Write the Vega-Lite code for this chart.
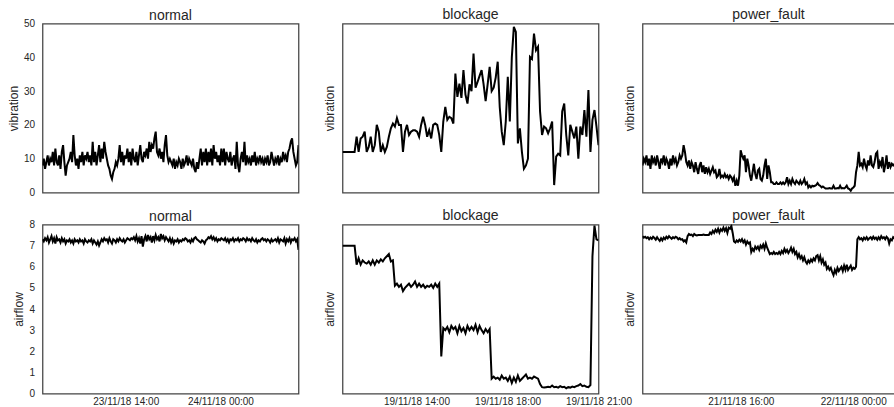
{
  "$schema": "https://vega.github.io/schema/vega-lite/v6.json",
  "padding": {"left": 6.5, "top": 6.5, "right": 0, "bottom": 0},
  "background": "white",
  "spacing": 9,
  "config": {
    "font": "Liberation Sans",
    "view": {"stroke": "#444444", "strokeWidth": 1.25},
    "title": {"fontSize": 14, "fontWeight": "normal", "color": "#262626", "offset": 2, "baseline": "alphabetic", "font": "Liberation Sans"},
    "axis": {"grid": false, "domain": false, "ticks": false, "tickSize": 0, "labelFontSize": 10, "labelColor": "#262626", "titleFontSize": 12, "titleFontWeight": "normal", "titleColor": "#262626", "labelFont": "Liberation Sans", "titleFont": "Liberation Sans"}
  },
  "datasets": {
    "normal": [
{"i":0,"v":8,"a":7.3},{"i":1,"v":10,"a":7.2},{"i":2,"v":7,"a":7.35},{"i":3,"v":9,"a":7.25},{"i":4,"v":11,"a":7.4},{"i":5,"v":8,"a":7.15},{"i":6,"v":10,"a":7.3},{"i":7,"v":9,"a":7.45},{"i":8,"v":12,"a":7.2},{"i":9,"v":8,"a":7.35},
{"i":10,"v":13,"a":7.1},{"i":11,"v":9,"a":7.4},{"i":12,"v":8,"a":7.25},{"i":13,"v":11,"a":7.3},{"i":14,"v":7,"a":7.15},{"i":15,"v":12,"a":7.35},{"i":16,"v":14,"a":7.2},{"i":17,"v":9,"a":7.3},{"i":18,"v":5,"a":7.1},{"i":19,"v":8,"a":7.25},
{"i":20,"v":9,"a":7.2},{"i":21,"v":10,"a":7.3},{"i":22,"v":12,"a":7.15},{"i":23,"v":9,"a":7.25},{"i":24,"v":17,"a":7.1},{"i":25,"v":11,"a":7.3},{"i":26,"v":8,"a":7.2},{"i":27,"v":10,"a":7.25},{"i":28,"v":7,"a":7.15},{"i":29,"v":11,"a":7.3},
{"i":30,"v":9,"a":7.2},{"i":31,"v":12,"a":7.25},{"i":32,"v":8,"a":7.1},{"i":33,"v":11,"a":7.3},{"i":34,"v":10,"a":7.2},{"i":35,"v":12,"a":7.15},{"i":36,"v":9,"a":7.25},{"i":37,"v":11,"a":7.2},{"i":38,"v":8,"a":7.3},{"i":39,"v":15,"a":7.1},
{"i":40,"v":9,"a":7.25},{"i":41,"v":12,"a":7.15},{"i":42,"v":8,"a":7.05},{"i":43,"v":11,"a":7.2},{"i":44,"v":14,"a":7.0},{"i":45,"v":9,"a":7.15},{"i":46,"v":13,"a":7.3},{"i":47,"v":10,"a":7.2},{"i":48,"v":15,"a":7.35},{"i":49,"v":12,"a":7.25},
{"i":50,"v":10,"a":7.3},{"i":51,"v":8,"a":7.15},{"i":52,"v":7,"a":7.35},{"i":53,"v":5,"a":7.2},{"i":54,"v":4,"a":7.1},{"i":55,"v":6,"a":7.3},{"i":56,"v":7,"a":7.25},{"i":57,"v":9,"a":7.15},{"i":58,"v":8,"a":7.3},{"i":59,"v":10,"a":7.2},
{"i":60,"v":14,"a":7.35},{"i":61,"v":9,"a":7.25},{"i":62,"v":12,"a":7.2},{"i":63,"v":8,"a":7.3},{"i":64,"v":11,"a":7.15},{"i":65,"v":10,"a":7.25},{"i":66,"v":13,"a":7.35},{"i":67,"v":9,"a":7.3},{"i":68,"v":12,"a":7.25},{"i":69,"v":8,"a":7.35},
{"i":70,"v":13,"a":7.3},{"i":71,"v":10,"a":7.4},{"i":72,"v":9,"a":7.25},{"i":73,"v":12,"a":7.45},{"i":74,"v":8,"a":7.2},{"i":75,"v":11,"a":7.35},{"i":76,"v":14,"a":7.1},{"i":77,"v":10,"a":7.45},{"i":78,"v":9,"a":6.95},{"i":79,"v":12,"a":7.3},
{"i":80,"v":11,"a":7.45},{"i":81,"v":13,"a":7.2},{"i":82,"v":10,"a":7.5},{"i":83,"v":15,"a":7.3},{"i":84,"v":12,"a":7.4},{"i":85,"v":14,"a":7.15},{"i":86,"v":13,"a":7.45},{"i":87,"v":16,"a":7.25},{"i":88,"v":18,"a":7.5},{"i":89,"v":12,"a":7.3},
{"i":90,"v":11,"a":7.4},{"i":91,"v":13,"a":7.2},{"i":92,"v":10,"a":7.55},{"i":93,"v":12,"a":7.35},{"i":94,"v":9,"a":7.45},{"i":95,"v":14,"a":7.25},{"i":96,"v":17,"a":7.4},{"i":97,"v":11,"a":7.3},{"i":98,"v":9,"a":7.2},{"i":99,"v":10,"a":7.35},
{"i":100,"v":9,"a":7.15},{"i":101,"v":8,"a":7.3},{"i":102,"v":10,"a":7.1},{"i":103,"v":7,"a":7.25},{"i":104,"v":9,"a":7.2},{"i":105,"v":8,"a":7.3},{"i":106,"v":10,"a":7.15},{"i":107,"v":9,"a":7.25},{"i":108,"v":7,"a":7.2},{"i":109,"v":10,"a":7.3},
{"i":110,"v":8,"a":7.25},{"i":111,"v":9,"a":7.35},{"i":112,"v":11,"a":7.3},{"i":113,"v":8,"a":7.2},{"i":114,"v":10,"a":7.25},{"i":115,"v":9,"a":7.15},{"i":116,"v":8,"a":7.3},{"i":117,"v":10,"a":7.2},{"i":118,"v":7,"a":7.35},{"i":119,"v":6,"a":7.4},
{"i":120,"v":9,"a":7.3},{"i":121,"v":7,"a":7.25},{"i":122,"v":10,"a":7.2},{"i":123,"v":13,"a":7.15},{"i":124,"v":8,"a":7.25},{"i":125,"v":12,"a":7.2},{"i":126,"v":9,"a":7.1},{"i":127,"v":13,"a":7.25},{"i":128,"v":8,"a":7.3},{"i":129,"v":12,"a":7.4},
{"i":130,"v":9,"a":7.35},{"i":131,"v":13,"a":7.45},{"i":132,"v":8,"a":7.3},{"i":133,"v":14,"a":7.4},{"i":134,"v":10,"a":7.25},{"i":135,"v":12,"a":7.35},{"i":136,"v":9,"a":7.2},{"i":137,"v":11,"a":7.3},{"i":138,"v":8,"a":7.25},{"i":139,"v":13,"a":7.35},
{"i":140,"v":9,"a":7.3},{"i":141,"v":13,"a":7.25},{"i":142,"v":8,"a":7.35},{"i":143,"v":12,"a":7.2},{"i":144,"v":10,"a":7.3},{"i":145,"v":9,"a":7.15},{"i":146,"v":12,"a":7.3},{"i":147,"v":8,"a":7.25},{"i":148,"v":10,"a":7.35},{"i":149,"v":11,"a":7.2},
{"i":150,"v":7,"a":7.3},{"i":151,"v":15,"a":7.25},{"i":152,"v":8,"a":7.35},{"i":153,"v":6,"a":7.2},{"i":154,"v":10,"a":7.3},{"i":155,"v":12,"a":7.25},{"i":156,"v":9,"a":7.35},{"i":157,"v":15,"a":7.3},{"i":158,"v":8,"a":7.2},{"i":159,"v":11,"a":7.35},
{"i":160,"v":9,"a":7.25},{"i":161,"v":10,"a":7.3},{"i":162,"v":8,"a":7.2},{"i":163,"v":11,"a":7.35},{"i":164,"v":9,"a":7.25},{"i":165,"v":12,"a":7.2},{"i":166,"v":8,"a":7.3},{"i":167,"v":10,"a":7.15},{"i":168,"v":9,"a":7.25},{"i":169,"v":11,"a":7.2},
{"i":170,"v":9,"a":7.3},{"i":171,"v":10,"a":7.35},{"i":172,"v":8,"a":7.25},{"i":173,"v":10,"a":7.3},{"i":174,"v":9,"a":7.2},{"i":175,"v":11,"a":7.3},{"i":176,"v":8,"a":7.25},{"i":177,"v":9,"a":7.15},{"i":178,"v":12,"a":7.3},{"i":179,"v":10,"a":7.2},
{"i":180,"v":8,"a":7.25},{"i":181,"v":10,"a":7.3},{"i":182,"v":9,"a":7.2},{"i":183,"v":11,"a":7.35},{"i":184,"v":8,"a":7.15},{"i":185,"v":10,"a":7.3},{"i":186,"v":9,"a":7.25},{"i":187,"v":12,"a":7.2},{"i":188,"v":10,"a":7.35},{"i":189,"v":11,"a":7.1},
{"i":190,"v":9,"a":7.3},{"i":191,"v":12,"a":7.2},{"i":192,"v":13,"a":7.35},{"i":193,"v":15,"a":7.15},{"i":194,"v":16,"a":7.3},{"i":195,"v":12,"a":7.25},{"i":196,"v":10,"a":7.35},{"i":197,"v":8,"a":7.2},{"i":198,"v":9,"a":7.3},{"i":199,"v":14,"a":6.8}
    ],
    "blockage": [
{"i":0,"v":12,"a":7},{"i":1,"v":12,"a":7},{"i":2,"v":12,"a":7},{"i":3,"v":12,"a":7},{"i":4,"v":12,"a":7},{"i":5,"v":12,"a":7},{"i":6,"v":12,"a":7},{"i":7,"v":16.5,"a":6.1},{"i":8,"v":12,"a":6.4},{"i":9,"v":16,"a":6.1},
{"i":10,"v":16.5,"a":6.3},{"i":11,"v":18,"a":6.2},{"i":12,"v":12,"a":6.15},{"i":13,"v":13.5,"a":6.25},{"i":14,"v":16.5,"a":6.1},{"i":15,"v":12,"a":6.3},{"i":16,"v":14,"a":6.1},{"i":17,"v":20,"a":6.3},{"i":18,"v":18,"a":6.2},{"i":19,"v":12,"a":6.35},
{"i":20,"v":14,"a":6.25},{"i":21,"v":12,"a":6.4},{"i":22,"v":13.5,"a":6.5},{"i":23,"v":16.5,"a":6.6},{"i":24,"v":19,"a":6.25},{"i":25,"v":20.4,"a":6.3},{"i":26,"v":19.5,"a":5.1},{"i":27,"v":22,"a":5.2},{"i":28,"v":20,"a":5.05},{"i":29,"v":20,"a":5.15},
{"i":30,"v":12,"a":4.85},{"i":31,"v":18,"a":5},{"i":32,"v":20,"a":5.1},{"i":33,"v":17,"a":5.2},{"i":34,"v":18,"a":5.05},{"i":35,"v":18.4,"a":5.15},{"i":36,"v":18.4,"a":5.3},{"i":37,"v":18,"a":5.05},{"i":38,"v":16.5,"a":5.2},{"i":39,"v":20,"a":5.05},
{"i":40,"v":22.4,"a":5.15},{"i":41,"v":20,"a":5},{"i":42,"v":16.5,"a":5.1},{"i":43,"v":18.4,"a":5.05},{"i":44,"v":16,"a":5.15},{"i":45,"v":20,"a":5},{"i":46,"v":20.4,"a":5.2},{"i":47,"v":20,"a":5.05},{"i":48,"v":17,"a":5.2},{"i":49,"v":12,"a":1.75},
{"i":50,"v":21,"a":3.1},{"i":51,"v":25.3,"a":3},{"i":52,"v":21.5,"a":3.15},{"i":53,"v":22.4,"a":2.9},{"i":54,"v":22,"a":3.2},{"i":55,"v":20.4,"a":3.05},{"i":56,"v":35.2,"a":3.15},{"i":57,"v":28.3,"a":2.85},{"i":58,"v":32.2,"a":3.2},{"i":59,"v":28,"a":2.95},
{"i":60,"v":36.2,"a":3.1},{"i":61,"v":29,"a":2.85},{"i":62,"v":26.3,"a":3.2},{"i":63,"v":32,"a":3},{"i":64,"v":30,"a":3.15},{"i":65,"v":41.1,"a":3},{"i":66,"v":31,"a":3.25},{"i":67,"v":32.7,"a":2.9},{"i":68,"v":34.5,"a":3.2},{"i":69,"v":36.2,"a":3},
{"i":70,"v":32,"a":2.85},{"i":71,"v":27,"a":3.05},{"i":72,"v":32,"a":2.9},{"i":73,"v":37.2,"a":3.05},{"i":74,"v":30,"a":0.7},{"i":75,"v":31,"a":0.8},{"i":76,"v":34,"a":0.7},{"i":77,"v":38.7,"a":0.75},{"i":78,"v":25.3,"a":0.65},{"i":79,"v":18,"a":0.85},
{"i":80,"v":14,"a":0.7},{"i":81,"v":21,"a":0.75},{"i":82,"v":34.2,"a":0.6},{"i":83,"v":21,"a":0.8},{"i":84,"v":40,"a":0.5},{"i":85,"v":49,"a":0.75},{"i":86,"v":47.5,"a":0.55},{"i":87,"v":14.5,"a":0.85},{"i":88,"v":19,"a":0.6},{"i":89,"v":12,"a":0.7},
{"i":90,"v":7,"a":0.8},{"i":91,"v":8,"a":0.9},{"i":92,"v":10,"a":0.7},{"i":93,"v":40.1,"a":0.75},{"i":94,"v":39.5,"a":0.7},{"i":95,"v":47,"a":0.8},{"i":96,"v":42.1,"a":0.75},{"i":97,"v":43.1,"a":0.7},{"i":98,"v":24,"a":0.45},{"i":99,"v":17,"a":0.3},
{"i":100,"v":19.5,"a":0.28},{"i":101,"v":19,"a":0.3},{"i":102,"v":17.5,"a":0.32},{"i":103,"v":19,"a":0.3},{"i":104,"v":21,"a":0.38},{"i":105,"v":2.2,"a":0.3},{"i":106,"v":10.6,"a":0.32},{"i":107,"v":11.5,"a":0.28},{"i":108,"v":11,"a":0.35},{"i":109,"v":24,"a":0.3},
{"i":110,"v":26.3,"a":0.32},{"i":111,"v":17,"a":0.25},{"i":112,"v":11,"a":0.3},{"i":113,"v":20,"a":0.28},{"i":114,"v":18,"a":0.33},{"i":115,"v":16,"a":0.3},{"i":116,"v":19.5,"a":0.35},{"i":117,"v":10,"a":0.38},{"i":118,"v":19.5,"a":0.45},{"i":119,"v":17,"a":0.35},
{"i":120,"v":24.4,"a":0.38},{"i":121,"v":16.5,"a":0.32},{"i":122,"v":30.3,"a":0.3},{"i":123,"v":12,"a":0.4},{"i":124,"v":21.5,"a":6.5},{"i":125,"v":24.4,"a":7.95},{"i":126,"v":19.5,"a":7.3},{"i":127,"v":14,"a":7.25}
    ],
    "power_fault": [
{"i":0,"v":8,"a":7.45},{"i":1,"v":10,"a":7.38},{"i":2,"v":9,"a":7.42},{"i":3,"v":11,"a":7.35},{"i":4,"v":8,"a":7.4},{"i":5,"v":10,"a":7.3},{"i":6,"v":7,"a":7.38},{"i":7,"v":11,"a":7.32},{"i":8,"v":9,"a":7.42},{"i":9,"v":10,"a":7.36},
{"i":10,"v":8,"a":7.28},{"i":11,"v":11,"a":7.4},{"i":12,"v":9,"a":7.3},{"i":13,"v":7,"a":7.22},{"i":14,"v":10,"a":7.35},{"i":15,"v":9,"a":7.25},{"i":16,"v":11,"a":7.38},{"i":17,"v":8,"a":7.3},{"i":18,"v":10,"a":7.42},{"i":19,"v":9,"a":7.35},
{"i":20,"v":7,"a":7.45},{"i":21,"v":10,"a":7.38},{"i":22,"v":8,"a":7.32},{"i":23,"v":11,"a":7.4},{"i":24,"v":9,"a":7.35},{"i":25,"v":10,"a":7.42},{"i":26,"v":8,"a":7.38},{"i":27,"v":9,"a":7.3},{"i":28,"v":11,"a":7.35},{"i":29,"v":10,"a":7.28},
{"i":30,"v":11,"a":7.3},{"i":31,"v":14,"a":7.2},{"i":32,"v":12,"a":7.25},{"i":33,"v":9,"a":7.15},{"i":34,"v":8,"a":7.45},{"i":35,"v":9.5,"a":7.55},{"i":36,"v":7,"a":7.5},{"i":37,"v":9,"a":7.52},{"i":38,"v":8,"a":7.45},{"i":39,"v":6,"a":7.55},
{"i":40,"v":9,"a":7.5},{"i":41,"v":7,"a":7.48},{"i":42,"v":5.5,"a":7.5},{"i":43,"v":8,"a":7.5},{"i":44,"v":9,"a":7.5},{"i":45,"v":6,"a":7.5},{"i":46,"v":8,"a":7.52},{"i":47,"v":5.5,"a":7.5},{"i":48,"v":7.5,"a":7.5},{"i":49,"v":6,"a":7.5},
{"i":50,"v":7,"a":7.5},{"i":51,"v":5.5,"a":7.62},{"i":52,"v":6.5,"a":7.55},{"i":53,"v":7.5,"a":7.7},{"i":54,"v":6,"a":7.6},{"i":55,"v":6.5,"a":7.75},{"i":56,"v":4.5,"a":7.65},{"i":57,"v":5,"a":7.8},{"i":58,"v":7,"a":7.62},{"i":59,"v":4.5,"a":7.78},
{"i":60,"v":5,"a":7.7},{"i":61,"v":4.5,"a":7.85},{"i":62,"v":5.5,"a":7.7},{"i":63,"v":4.5,"a":7.82},{"i":64,"v":5,"a":7.6},{"i":65,"v":4,"a":7.85},{"i":66,"v":5,"a":7.8},{"i":67,"v":4.5,"a":7.93},{"i":68,"v":3.5,"a":7.6},{"i":69,"v":4.5,"a":7.2},
{"i":70,"v":2,"a":7.15},{"i":71,"v":3.5,"a":7.25},{"i":72,"v":2,"a":7.18},{"i":73,"v":5,"a":7.28},{"i":74,"v":12.5,"a":7.2},{"i":75,"v":11,"a":7.3},{"i":76,"v":10,"a":7.15},{"i":77,"v":11,"a":7.25},{"i":78,"v":6,"a":7.05},{"i":79,"v":10,"a":7.2},
{"i":80,"v":8,"a":7.1},{"i":81,"v":5,"a":7.15},{"i":82,"v":3.5,"a":6.7},{"i":83,"v":6,"a":6.85},{"i":84,"v":8.5,"a":6.75},{"i":85,"v":5.5,"a":6.95},{"i":86,"v":4,"a":6.85},{"i":87,"v":6.5,"a":6.95},{"i":88,"v":7,"a":6.8},{"i":89,"v":4,"a":7.0},
{"i":90,"v":3.5,"a":6.9},{"i":91,"v":5,"a":7.05},{"i":92,"v":8,"a":6.85},{"i":93,"v":10,"a":7.1},{"i":94,"v":4,"a":6.9},{"i":95,"v":8,"a":6.75},{"i":96,"v":6,"a":6.6},{"i":97,"v":3,"a":6.65},{"i":98,"v":3,"a":6.6},{"i":99,"v":2.5,"a":6.7},
{"i":100,"v":2.5,"a":6.6},{"i":101,"v":3,"a":6.65},{"i":102,"v":2.5,"a":6.6},{"i":103,"v":2.5,"a":6.7},{"i":104,"v":3,"a":6.6},{"i":105,"v":2.5,"a":6.75},{"i":106,"v":3,"a":6.65},{"i":107,"v":2.5,"a":6.85},{"i":108,"v":3,"a":6.7},{"i":109,"v":4.5,"a":6.8},
{"i":110,"v":2.5,"a":6.65},{"i":111,"v":3.5,"a":6.75},{"i":112,"v":2.5,"a":6.9},{"i":113,"v":4,"a":6.7},{"i":114,"v":3,"a":6.85},{"i":115,"v":2.5,"a":6.6},{"i":116,"v":3.5,"a":6.7},{"i":117,"v":3,"a":6.45},{"i":118,"v":2.5,"a":6.6},{"i":119,"v":3.5,"a":6.4},
{"i":120,"v":2.5,"a":6.5},{"i":121,"v":3,"a":6.3},{"i":122,"v":4,"a":6.45},{"i":123,"v":2.5,"a":6.25},{"i":124,"v":3,"a":6.15},{"i":125,"v":1.5,"a":6.3},{"i":126,"v":2,"a":6.2},{"i":127,"v":1.5,"a":6.35},{"i":128,"v":2,"a":6.25},{"i":129,"v":1.8,"a":6.4},
{"i":130,"v":2,"a":6.3},{"i":131,"v":2.2,"a":6.5},{"i":132,"v":2.8,"a":6.55},{"i":133,"v":2.2,"a":6.3},{"i":134,"v":2,"a":6.5},{"i":135,"v":1.5,"a":6.2},{"i":136,"v":1.8,"a":6.35},{"i":137,"v":1.5,"a":6.1},{"i":138,"v":1.2,"a":6.2},{"i":139,"v":1.2,"a":5.9},
{"i":140,"v":1.2,"a":6.0},{"i":141,"v":1.3,"a":5.85},{"i":142,"v":1.2,"a":5.95},{"i":143,"v":1.2,"a":5.75},{"i":144,"v":2,"a":5.6},{"i":145,"v":1.2,"a":5.85},{"i":146,"v":1.2,"a":5.7},{"i":147,"v":1.3,"a":5.95},{"i":148,"v":1.2,"a":5.8},{"i":149,"v":2,"a":5.9},
{"i":150,"v":1.2,"a":6.0},{"i":151,"v":1.3,"a":5.8},{"i":152,"v":1.2,"a":6.05},{"i":153,"v":1.5,"a":5.85},{"i":154,"v":2,"a":6.1},{"i":155,"v":1.2,"a":5.85},{"i":156,"v":1,"a":5.95},{"i":157,"v":0.5,"a":6.05},{"i":158,"v":1.2,"a":5.85},{"i":159,"v":1.5,"a":5.95},
{"i":160,"v":2,"a":5.9},{"i":161,"v":6,"a":6.0},{"i":162,"v":8,"a":7.3},{"i":163,"v":12,"a":7.4},{"i":164,"v":8,"a":7.3},{"i":165,"v":8.5,"a":7.35},{"i":166,"v":7.5,"a":7.25},{"i":167,"v":10,"a":7.38},{"i":168,"v":8,"a":7.3},{"i":169,"v":7,"a":7.4},
{"i":170,"v":9.5,"a":7.28},{"i":171,"v":8,"a":7.35},{"i":172,"v":11,"a":7.4},{"i":173,"v":8,"a":7.3},{"i":174,"v":7.5,"a":7.42},{"i":175,"v":9,"a":7.32},{"i":176,"v":11.5,"a":7.38},{"i":177,"v":12,"a":7.28},{"i":178,"v":7,"a":7.4},{"i":179,"v":9,"a":7.3},
{"i":180,"v":8,"a":7.45},{"i":181,"v":10.5,"a":7.35},{"i":182,"v":6,"a":7.4},{"i":183,"v":8,"a":7.3},{"i":184,"v":11,"a":7.42},{"i":185,"v":7,"a":7.35},{"i":186,"v":9,"a":7.1},{"i":187,"v":7.5,"a":7.3},{"i":188,"v":8.5,"a":7.25},{"i":189,"v":8,"a":7.4},
{"i":190,"v":8.5,"a":7.35}
    ]
  },
  "vconcat": [
    {
      "bounds": "flush",
      "spacing": 44,
      "hconcat": [
        {
          "data": {"name": "normal"}, "title": {"text": "normal", "offset": -4}, "width": 256, "height": 169,
          "mark": {"type": "line", "color": "black", "strokeWidth": 2, "clip": true},
          "encoding": {
            "x": {"field": "i", "type": "quantitative", "scale": {"domain": [0, 199], "nice": false, "zero": false}, "axis": null},
            "y": {"field": "v", "type": "quantitative", "scale": {"domain": [0, 50], "nice": false}, "axis": {"title": "vibration", "values": [0, 10, 20, 30, 40, 50], "labelPadding": 8, "titlePadding": 3}}
          }
        },
        {
          "data": {"name": "blockage"}, "title": "blockage", "width": 256, "height": 169,
          "mark": {"type": "line", "color": "black", "strokeWidth": 2, "clip": true},
          "encoding": {
            "x": {"field": "i", "type": "quantitative", "scale": {"domain": [0, 127], "nice": false, "zero": false}, "axis": null},
            "y": {"field": "v", "type": "quantitative", "scale": {"domain": [0, 50], "nice": false}, "axis": {"title": "vibration", "labels": false, "titlePadding": 6.5}}
          }
        },
        {
          "data": {"name": "power_fault"}, "title": "power_fault", "width": 252, "height": 169,
          "mark": {"type": "line", "color": "black", "strokeWidth": 2, "clip": true},
          "encoding": {
            "x": {"field": "i", "type": "quantitative", "scale": {"domain": [0, 190], "nice": false, "zero": false}, "axis": null},
            "y": {"field": "v", "type": "quantitative", "scale": {"domain": [0, 50], "nice": false}, "axis": {"title": "vibration", "labels": false, "titlePadding": 6.5}}
          }
        }
      ]
    },
    {
      "bounds": "flush",
      "spacing": 44,
      "hconcat": [
        {
          "data": {"name": "normal"}, "title": {"text": "normal", "offset": -4}, "width": 256, "height": 169,
          "mark": {"type": "line", "color": "black", "strokeWidth": 2, "clip": true},
          "encoding": {
            "x": {"field": "i", "type": "quantitative", "scale": {"domain": [0, 199], "nice": false, "zero": false}, "axis": {"title": null, "values": [64.7, 138.3], "labelExpr": "datum.value < 100 ? '23/11/18 14:00' : '24/11/18 00:00'", "labelFlush": false, "labelOverlap": false, "labelPadding": 3}},
            "y": {"field": "a", "type": "quantitative", "scale": {"domain": [0, 8], "nice": false}, "axis": {"title": "airflow", "values": [0, 1, 2, 3, 4, 5, 6, 7, 8], "labelPadding": 8, "titlePadding": 3}}
          }
        },
        {
          "data": {"name": "blockage"}, "title": "blockage", "width": 256, "height": 169,
          "mark": {"type": "line", "color": "black", "strokeWidth": 2, "clip": true},
          "encoding": {
            "x": {"field": "i", "type": "quantitative", "scale": {"domain": [0, 127], "nice": false, "zero": false}, "axis": {"title": null, "values": [36.7, 81.9, 127], "labelExpr": "datum.value < 50 ? '19/11/18 14:00' : datum.value < 100 ? '19/11/18 18:00' : '19/11/18 21:00'", "labelFlush": false, "labelOverlap": false, "labelPadding": 3}},
            "y": {"field": "a", "type": "quantitative", "scale": {"domain": [0, 8], "nice": false}, "axis": {"title": "airflow", "labels": false, "titlePadding": 6.5}}
          }
        },
        {
          "data": {"name": "power_fault"}, "title": "power_fault", "width": 252, "height": 169,
          "mark": {"type": "line", "color": "black", "strokeWidth": 2, "clip": true},
          "encoding": {
            "x": {"field": "i", "type": "quantitative", "scale": {"domain": [0, 190], "nice": false, "zero": false}, "axis": {"title": null, "values": [74.1, 158.9], "labelExpr": "datum.value < 100 ? '21/11/18 16:00' : '22/11/18 00:00'", "labelFlush": false, "labelOverlap": false, "labelPadding": 3}},
            "y": {"field": "a", "type": "quantitative", "scale": {"domain": [0, 8], "nice": false}, "axis": {"title": "airflow", "labels": false, "titlePadding": 6.5}}
          }
        }
      ]
    }
  ]
}
